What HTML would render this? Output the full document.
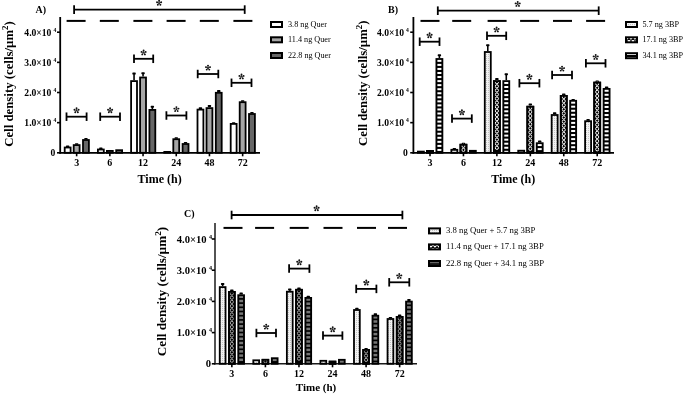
<!DOCTYPE html>
<html><head><meta charset="utf-8"><style>
html,body{margin:0;padding:0;background:#fff;}
svg{display:block;}
#wrap{width:685px;height:395px;overflow:hidden;will-change:transform;}
text{font-family:"Liberation Serif", serif;fill:#000;}
</style></head><body><div id="wrap">
<svg width="685" height="395" viewBox="0 0 685 395">
<defs>
<pattern id="pDots" width="2" height="2" patternUnits="userSpaceOnUse">
<rect width="2" height="2" fill="#f2f2f2"/><rect x="0" y="0" width="1" height="1" fill="#c4c4c4"/>
</pattern>
<pattern id="pCross" x="1" y="1" width="4" height="4" patternUnits="userSpaceOnUse">
<rect width="4" height="4" fill="#000"/><path d="M0 0L4 4M4 0L0 4" stroke="#fff" stroke-width="1.15"/>
</pattern>
<pattern id="pLadder" width="4" height="4" patternUnits="userSpaceOnUse">
<rect width="4" height="4" fill="#000"/><rect x="0" y="1" width="4" height="2" fill="#fff"/>
</pattern>
<pattern id="pLadderG" width="4" height="4" patternUnits="userSpaceOnUse">
<rect width="4" height="4" fill="#000"/><rect x="0" y="0.8" width="4" height="2.5" fill="#666"/>
</pattern>
</defs>
<rect width="685" height="395" fill="#fff"/>
<text transform="translate(13,84) rotate(-90)" font-size="12.8" font-weight="bold" text-anchor="middle">Cell density (cells/µm<tspan font-size="8.96" dy="-5">2</tspan><tspan dy="5">)</tspan></text>
<text x="35.5" y="13" font-size="10" font-weight="bold" text-anchor="start" >A)</text>
<line x1="60.2" y1="17" x2="60.2" y2="153.7" stroke="#000" stroke-width="1.8"/>
<line x1="59.3" y1="152.8" x2="260" y2="152.8" stroke="#000" stroke-width="1.8"/>
<line x1="57" y1="152.8" x2="60.2" y2="152.8" stroke="#000" stroke-width="1.6"/>
<text x="55.3" y="156" font-size="9.6" font-weight="bold" text-anchor="end" >0</text>
<line x1="57" y1="122.65" x2="60.2" y2="122.65" stroke="#000" stroke-width="1.6"/>
<text x="51.4" y="126.05" font-size="9.6" font-weight="bold" text-anchor="end" >1.0×10</text>
<text x="53.5" y="122.25" font-size="5.6" font-weight="bold" text-anchor="start" >4</text>
<line x1="57" y1="92.5" x2="60.2" y2="92.5" stroke="#000" stroke-width="1.6"/>
<text x="51.4" y="95.9" font-size="9.6" font-weight="bold" text-anchor="end" >2.0×10</text>
<text x="53.5" y="92.1" font-size="5.6" font-weight="bold" text-anchor="start" >4</text>
<line x1="57" y1="62.35" x2="60.2" y2="62.35" stroke="#000" stroke-width="1.6"/>
<text x="51.4" y="65.75" font-size="9.6" font-weight="bold" text-anchor="end" >3.0×10</text>
<text x="53.5" y="61.95" font-size="5.6" font-weight="bold" text-anchor="start" >4</text>
<line x1="57" y1="32.2" x2="60.2" y2="32.2" stroke="#000" stroke-width="1.6"/>
<text x="51.4" y="35.6" font-size="9.6" font-weight="bold" text-anchor="end" >4.0×10</text>
<text x="53.5" y="31.8" font-size="5.6" font-weight="bold" text-anchor="start" >4</text>
<line x1="76.65" y1="152.8" x2="76.65" y2="156.3" stroke="#000" stroke-width="1.6"/>
<text x="76.65" y="166" font-size="10" font-weight="bold" text-anchor="middle" >3</text>
<rect x="65.95" y="145.6" width="3.4" height="1.5" rx="0.6" fill="#000"/>
<rect x="64.7" y="147.5" width="5.9" height="5.3" fill="#fff" stroke="#000" stroke-width="1.8"/>
<rect x="74.95" y="143.2" width="3.4" height="1.5" rx="0.6" fill="#000"/>
<rect x="73.7" y="145.1" width="5.9" height="7.7" fill="#a6a6a6" stroke="#000" stroke-width="1.8"/>
<rect x="84.25" y="138.1" width="3.4" height="1.5" rx="0.6" fill="#000"/>
<rect x="83" y="140" width="5.9" height="12.8" fill="#666" stroke="#000" stroke-width="1.8"/>
<line x1="109.85" y1="152.8" x2="109.85" y2="156.3" stroke="#000" stroke-width="1.6"/>
<text x="109.85" y="166" font-size="10" font-weight="bold" text-anchor="middle" >6</text>
<rect x="99.15" y="147.6" width="3.4" height="1.5" rx="0.6" fill="#000"/>
<rect x="97.9" y="149.5" width="5.9" height="3.3" fill="#fff" stroke="#000" stroke-width="1.8"/>
<rect x="106.9" y="150.9" width="5.9" height="1.9" fill="#a6a6a6" stroke="#000" stroke-width="1.8"/>
<rect x="116.2" y="150.2" width="5.9" height="2.6" fill="#666" stroke="#000" stroke-width="1.8"/>
<line x1="143.05" y1="152.8" x2="143.05" y2="156.3" stroke="#000" stroke-width="1.6"/>
<text x="143.05" y="166" font-size="10" font-weight="bold" text-anchor="middle" >12</text>
<line x1="134.05" y1="80.2" x2="134.05" y2="73.6" stroke="#000" stroke-width="1.6"/>
<rect x="132.35" y="72.6" width="3.4" height="1.9" rx="0.6" fill="#000"/>
<rect x="131.1" y="81.1" width="5.9" height="71.7" fill="#fff" stroke="#000" stroke-width="1.8"/>
<line x1="143.05" y1="76.6" x2="143.05" y2="73.3" stroke="#000" stroke-width="1.6"/>
<rect x="141.35" y="72.3" width="3.4" height="1.9" rx="0.6" fill="#000"/>
<rect x="140.1" y="77.5" width="5.9" height="75.3" fill="#a6a6a6" stroke="#000" stroke-width="1.8"/>
<line x1="152.35" y1="109" x2="152.35" y2="106.8" stroke="#000" stroke-width="1.6"/>
<rect x="150.65" y="105.8" width="3.4" height="1.9" rx="0.6" fill="#000"/>
<rect x="149.4" y="109.9" width="5.9" height="42.9" fill="#666" stroke="#000" stroke-width="1.8"/>
<line x1="176.25" y1="152.8" x2="176.25" y2="156.3" stroke="#000" stroke-width="1.6"/>
<text x="176.25" y="166" font-size="10" font-weight="bold" text-anchor="middle" >24</text>
<rect x="164.3" y="151.9" width="5.9" height="0.9" fill="#fff" stroke="#000" stroke-width="1.8"/>
<rect x="174.55" y="137.3" width="3.4" height="1.5" rx="0.6" fill="#000"/>
<rect x="173.3" y="139.2" width="5.9" height="13.6" fill="#a6a6a6" stroke="#000" stroke-width="1.8"/>
<rect x="183.85" y="142.1" width="3.4" height="1.5" rx="0.6" fill="#000"/>
<rect x="182.6" y="144" width="5.9" height="8.8" fill="#666" stroke="#000" stroke-width="1.8"/>
<line x1="209.45" y1="152.8" x2="209.45" y2="156.3" stroke="#000" stroke-width="1.6"/>
<text x="209.45" y="166" font-size="10" font-weight="bold" text-anchor="middle" >48</text>
<rect x="198.75" y="107.2" width="3.4" height="1.9" rx="0.6" fill="#000"/>
<rect x="197.5" y="109.6" width="5.9" height="43.2" fill="#fff" stroke="#000" stroke-width="1.8"/>
<line x1="209.45" y1="107.2" x2="209.45" y2="106" stroke="#000" stroke-width="1.6"/>
<rect x="207.75" y="105" width="3.4" height="1.9" rx="0.6" fill="#000"/>
<rect x="206.5" y="108.1" width="5.9" height="44.7" fill="#a6a6a6" stroke="#000" stroke-width="1.8"/>
<rect x="217.05" y="90.1" width="3.4" height="1.9" rx="0.6" fill="#000"/>
<rect x="215.8" y="92.8" width="5.9" height="60" fill="#666" stroke="#000" stroke-width="1.8"/>
<line x1="242.65" y1="152.8" x2="242.65" y2="156.3" stroke="#000" stroke-width="1.6"/>
<text x="242.65" y="166" font-size="10" font-weight="bold" text-anchor="middle" >72</text>
<rect x="231.95" y="122.2" width="3.4" height="1.3" rx="0.6" fill="#000"/>
<rect x="230.7" y="123.9" width="5.9" height="28.9" fill="#fff" stroke="#000" stroke-width="1.8"/>
<rect x="240.95" y="100.2" width="3.4" height="1.6" rx="0.6" fill="#000"/>
<rect x="239.7" y="102.2" width="5.9" height="50.6" fill="#a6a6a6" stroke="#000" stroke-width="1.8"/>
<rect x="250.25" y="112" width="3.4" height="1.6" rx="0.6" fill="#000"/>
<rect x="249" y="114" width="5.9" height="38.8" fill="#666" stroke="#000" stroke-width="1.8"/>
<line x1="66.5" y1="116.7" x2="86.6" y2="116.7" stroke="#000" stroke-width="1.8"/>
<line x1="66.5" y1="112.45" x2="66.5" y2="120.95" stroke="#000" stroke-width="1.8"/>
<line x1="86.6" y1="112.45" x2="86.6" y2="120.95" stroke="#000" stroke-width="1.8"/>
<g><line x1="76.55" y1="110.5" x2="76.55" y2="108.3" stroke="#111" stroke-width="0.8"/><circle cx="76.55" cy="108.3" r="0.95" fill="#111"/><line x1="76.55" y1="110.5" x2="78.64" y2="109.82" stroke="#111" stroke-width="0.8"/><circle cx="78.64" cy="109.82" r="0.95" fill="#111"/><line x1="76.55" y1="110.5" x2="74.46" y2="109.82" stroke="#111" stroke-width="0.8"/><circle cx="74.46" cy="109.82" r="0.95" fill="#111"/><line x1="76.55" y1="110.5" x2="77.84" y2="112.28" stroke="#111" stroke-width="0.8"/><circle cx="77.84" cy="112.28" r="0.95" fill="#111"/><line x1="76.55" y1="110.5" x2="75.26" y2="112.28" stroke="#111" stroke-width="0.8"/><circle cx="75.26" cy="112.28" r="0.95" fill="#111"/></g>
<line x1="100.2" y1="116.7" x2="120" y2="116.7" stroke="#000" stroke-width="1.8"/>
<line x1="100.2" y1="112.45" x2="100.2" y2="120.95" stroke="#000" stroke-width="1.8"/>
<line x1="120" y1="112.45" x2="120" y2="120.95" stroke="#000" stroke-width="1.8"/>
<g><line x1="110.1" y1="110.5" x2="110.1" y2="108.3" stroke="#111" stroke-width="0.8"/><circle cx="110.1" cy="108.3" r="0.95" fill="#111"/><line x1="110.1" y1="110.5" x2="112.19" y2="109.82" stroke="#111" stroke-width="0.8"/><circle cx="112.19" cy="109.82" r="0.95" fill="#111"/><line x1="110.1" y1="110.5" x2="108.01" y2="109.82" stroke="#111" stroke-width="0.8"/><circle cx="108.01" cy="109.82" r="0.95" fill="#111"/><line x1="110.1" y1="110.5" x2="111.39" y2="112.28" stroke="#111" stroke-width="0.8"/><circle cx="111.39" cy="112.28" r="0.95" fill="#111"/><line x1="110.1" y1="110.5" x2="108.81" y2="112.28" stroke="#111" stroke-width="0.8"/><circle cx="108.81" cy="112.28" r="0.95" fill="#111"/></g>
<line x1="134" y1="58.8" x2="153.2" y2="58.8" stroke="#000" stroke-width="1.8"/>
<line x1="134" y1="54.55" x2="134" y2="63.05" stroke="#000" stroke-width="1.8"/>
<line x1="153.2" y1="54.55" x2="153.2" y2="63.05" stroke="#000" stroke-width="1.8"/>
<g><line x1="143.6" y1="52.6" x2="143.6" y2="50.4" stroke="#111" stroke-width="0.8"/><circle cx="143.6" cy="50.4" r="0.95" fill="#111"/><line x1="143.6" y1="52.6" x2="145.69" y2="51.92" stroke="#111" stroke-width="0.8"/><circle cx="145.69" cy="51.92" r="0.95" fill="#111"/><line x1="143.6" y1="52.6" x2="141.51" y2="51.92" stroke="#111" stroke-width="0.8"/><circle cx="141.51" cy="51.92" r="0.95" fill="#111"/><line x1="143.6" y1="52.6" x2="144.89" y2="54.38" stroke="#111" stroke-width="0.8"/><circle cx="144.89" cy="54.38" r="0.95" fill="#111"/><line x1="143.6" y1="52.6" x2="142.31" y2="54.38" stroke="#111" stroke-width="0.8"/><circle cx="142.31" cy="54.38" r="0.95" fill="#111"/></g>
<line x1="166.4" y1="115.5" x2="186.4" y2="115.5" stroke="#000" stroke-width="1.8"/>
<line x1="166.4" y1="111.25" x2="166.4" y2="119.75" stroke="#000" stroke-width="1.8"/>
<line x1="186.4" y1="111.25" x2="186.4" y2="119.75" stroke="#000" stroke-width="1.8"/>
<g><line x1="176.4" y1="109.3" x2="176.4" y2="107.1" stroke="#111" stroke-width="0.8"/><circle cx="176.4" cy="107.1" r="0.95" fill="#111"/><line x1="176.4" y1="109.3" x2="178.49" y2="108.62" stroke="#111" stroke-width="0.8"/><circle cx="178.49" cy="108.62" r="0.95" fill="#111"/><line x1="176.4" y1="109.3" x2="174.31" y2="108.62" stroke="#111" stroke-width="0.8"/><circle cx="174.31" cy="108.62" r="0.95" fill="#111"/><line x1="176.4" y1="109.3" x2="177.69" y2="111.08" stroke="#111" stroke-width="0.8"/><circle cx="177.69" cy="111.08" r="0.95" fill="#111"/><line x1="176.4" y1="109.3" x2="175.11" y2="111.08" stroke="#111" stroke-width="0.8"/><circle cx="175.11" cy="111.08" r="0.95" fill="#111"/></g>
<line x1="197.7" y1="74" x2="218.3" y2="74" stroke="#000" stroke-width="1.8"/>
<line x1="197.7" y1="69.75" x2="197.7" y2="78.25" stroke="#000" stroke-width="1.8"/>
<line x1="218.3" y1="69.75" x2="218.3" y2="78.25" stroke="#000" stroke-width="1.8"/>
<g><line x1="208" y1="67.8" x2="208" y2="65.6" stroke="#111" stroke-width="0.8"/><circle cx="208" cy="65.6" r="0.95" fill="#111"/><line x1="208" y1="67.8" x2="210.09" y2="67.12" stroke="#111" stroke-width="0.8"/><circle cx="210.09" cy="67.12" r="0.95" fill="#111"/><line x1="208" y1="67.8" x2="205.91" y2="67.12" stroke="#111" stroke-width="0.8"/><circle cx="205.91" cy="67.12" r="0.95" fill="#111"/><line x1="208" y1="67.8" x2="209.29" y2="69.58" stroke="#111" stroke-width="0.8"/><circle cx="209.29" cy="69.58" r="0.95" fill="#111"/><line x1="208" y1="67.8" x2="206.71" y2="69.58" stroke="#111" stroke-width="0.8"/><circle cx="206.71" cy="69.58" r="0.95" fill="#111"/></g>
<line x1="231.5" y1="82.8" x2="251.5" y2="82.8" stroke="#000" stroke-width="1.8"/>
<line x1="231.5" y1="78.55" x2="231.5" y2="87.05" stroke="#000" stroke-width="1.8"/>
<line x1="251.5" y1="78.55" x2="251.5" y2="87.05" stroke="#000" stroke-width="1.8"/>
<g><line x1="241.5" y1="76.6" x2="241.5" y2="74.4" stroke="#111" stroke-width="0.8"/><circle cx="241.5" cy="74.4" r="0.95" fill="#111"/><line x1="241.5" y1="76.6" x2="243.59" y2="75.92" stroke="#111" stroke-width="0.8"/><circle cx="243.59" cy="75.92" r="0.95" fill="#111"/><line x1="241.5" y1="76.6" x2="239.41" y2="75.92" stroke="#111" stroke-width="0.8"/><circle cx="239.41" cy="75.92" r="0.95" fill="#111"/><line x1="241.5" y1="76.6" x2="242.79" y2="78.38" stroke="#111" stroke-width="0.8"/><circle cx="242.79" cy="78.38" r="0.95" fill="#111"/><line x1="241.5" y1="76.6" x2="240.21" y2="78.38" stroke="#111" stroke-width="0.8"/><circle cx="240.21" cy="78.38" r="0.95" fill="#111"/></g>
<line x1="74.1" y1="9.6" x2="244.7" y2="9.6" stroke="#000" stroke-width="1.8"/>
<line x1="74.1" y1="5.3" x2="74.1" y2="13.9" stroke="#000" stroke-width="1.8"/>
<line x1="244.7" y1="5.3" x2="244.7" y2="13.9" stroke="#000" stroke-width="1.8"/>
<g><line x1="159.1" y1="3" x2="159.1" y2="0.8" stroke="#111" stroke-width="0.8"/><circle cx="159.1" cy="0.8" r="0.95" fill="#111"/><line x1="159.1" y1="3" x2="161.19" y2="2.32" stroke="#111" stroke-width="0.8"/><circle cx="161.19" cy="2.32" r="0.95" fill="#111"/><line x1="159.1" y1="3" x2="157.01" y2="2.32" stroke="#111" stroke-width="0.8"/><circle cx="157.01" cy="2.32" r="0.95" fill="#111"/><line x1="159.1" y1="3" x2="160.39" y2="4.78" stroke="#111" stroke-width="0.8"/><circle cx="160.39" cy="4.78" r="0.95" fill="#111"/><line x1="159.1" y1="3" x2="157.81" y2="4.78" stroke="#111" stroke-width="0.8"/><circle cx="157.81" cy="4.78" r="0.95" fill="#111"/></g>
<line x1="66.6" y1="20.9" x2="85.6" y2="20.9" stroke="#000" stroke-width="2"/>
<line x1="99.8" y1="20.9" x2="118.8" y2="20.9" stroke="#000" stroke-width="2"/>
<line x1="133.4" y1="20.9" x2="152.4" y2="20.9" stroke="#000" stroke-width="2"/>
<line x1="166.6" y1="20.9" x2="185.6" y2="20.9" stroke="#000" stroke-width="2"/>
<line x1="199.8" y1="20.9" x2="218.8" y2="20.9" stroke="#000" stroke-width="2"/>
<line x1="233.4" y1="20.9" x2="252.4" y2="20.9" stroke="#000" stroke-width="2"/>
<text x="159.6" y="183" font-size="12" font-weight="bold" text-anchor="middle" >Time (h)</text>
<rect x="271" y="22" width="11" height="5" fill="#fff" stroke="#000" stroke-width="2"/>
<text x="288" y="27" font-size="8.2" text-anchor="start" >3.8 ng Quer</text>
<rect x="271" y="37.3" width="11" height="5" fill="#a6a6a6" stroke="#000" stroke-width="2"/>
<text x="288" y="42.3" font-size="8.2" text-anchor="start" >11.4 ng Quer</text>
<rect x="271" y="53" width="11" height="5" fill="#666" stroke="#000" stroke-width="2"/>
<text x="288" y="58" font-size="8.2" text-anchor="start" >22.8 ng Quer</text>
<text transform="translate(366.5,83.2) rotate(-90)" font-size="12.8" font-weight="bold" text-anchor="middle">Cell density (cells/µm<tspan font-size="8.96" dy="-5">2</tspan><tspan dy="5">)</tspan></text>
<text x="388" y="13" font-size="10" font-weight="bold" text-anchor="start" >B)</text>
<line x1="413.4" y1="17" x2="413.4" y2="153.7" stroke="#000" stroke-width="1.8"/>
<line x1="412.5" y1="152.8" x2="614" y2="152.8" stroke="#000" stroke-width="1.8"/>
<line x1="410.2" y1="152.8" x2="413.4" y2="152.8" stroke="#000" stroke-width="1.6"/>
<text x="407.9" y="156" font-size="9.6" font-weight="bold" text-anchor="end" >0</text>
<line x1="410.2" y1="122.65" x2="413.4" y2="122.65" stroke="#000" stroke-width="1.6"/>
<text x="404" y="126.05" font-size="9.6" font-weight="bold" text-anchor="end" >1.0×10</text>
<text x="406.1" y="122.25" font-size="5.6" font-weight="bold" text-anchor="start" >4</text>
<line x1="410.2" y1="92.5" x2="413.4" y2="92.5" stroke="#000" stroke-width="1.6"/>
<text x="404" y="95.9" font-size="9.6" font-weight="bold" text-anchor="end" >2.0×10</text>
<text x="406.1" y="92.1" font-size="5.6" font-weight="bold" text-anchor="start" >4</text>
<line x1="410.2" y1="62.35" x2="413.4" y2="62.35" stroke="#000" stroke-width="1.6"/>
<text x="404" y="65.75" font-size="9.6" font-weight="bold" text-anchor="end" >3.0×10</text>
<text x="406.1" y="61.95" font-size="5.6" font-weight="bold" text-anchor="start" >4</text>
<line x1="410.2" y1="32.2" x2="413.4" y2="32.2" stroke="#000" stroke-width="1.6"/>
<text x="404" y="35.6" font-size="9.6" font-weight="bold" text-anchor="end" >4.0×10</text>
<text x="406.1" y="31.8" font-size="5.6" font-weight="bold" text-anchor="start" >4</text>
<line x1="430" y1="152.8" x2="430" y2="156.3" stroke="#000" stroke-width="1.6"/>
<text x="430" y="166" font-size="10" font-weight="bold" text-anchor="middle" >3</text>
<rect x="417.9" y="151.6" width="6" height="1.2" fill="url(#pDots)" stroke="#000" stroke-width="1.8"/>
<rect x="427" y="150.9" width="6" height="1.9" fill="#000" stroke="#000" stroke-width="1.8"/>
<rect x="427" y="150.9" width="6" height="1.9" fill="none" stroke="#000" stroke-width="1.8"/>
<line x1="439.4" y1="58.1" x2="439.4" y2="55.3" stroke="#000" stroke-width="1.6"/>
<rect x="437.7" y="54.3" width="3.4" height="1.9" rx="0.6" fill="#000"/>
<rect x="436.4" y="59" width="6" height="93.8" fill="#000" stroke="#000" stroke-width="1.8"/>
<rect x="437.4" y="59.9" width="4" height="1.95" fill="#fff"/>
<rect x="437.4" y="63.9" width="4" height="2" fill="#fff"/>
<rect x="437.4" y="67.95" width="4" height="2" fill="#fff"/>
<rect x="437.4" y="72" width="4" height="2" fill="#fff"/>
<rect x="437.4" y="76.05" width="4" height="2" fill="#fff"/>
<rect x="437.4" y="80.1" width="4" height="2" fill="#fff"/>
<rect x="437.4" y="84.15" width="4" height="2" fill="#fff"/>
<rect x="437.4" y="88.2" width="4" height="2" fill="#fff"/>
<rect x="437.4" y="92.25" width="4" height="2" fill="#fff"/>
<rect x="437.4" y="96.3" width="4" height="2" fill="#fff"/>
<rect x="437.4" y="100.35" width="4" height="2" fill="#fff"/>
<rect x="437.4" y="104.4" width="4" height="2" fill="#fff"/>
<rect x="437.4" y="108.45" width="4" height="2" fill="#fff"/>
<rect x="437.4" y="112.5" width="4" height="2" fill="#fff"/>
<rect x="437.4" y="116.55" width="4" height="2" fill="#fff"/>
<rect x="437.4" y="120.6" width="4" height="2" fill="#fff"/>
<rect x="437.4" y="124.65" width="4" height="2" fill="#fff"/>
<rect x="437.4" y="128.7" width="4" height="2" fill="#fff"/>
<rect x="437.4" y="132.75" width="4" height="2" fill="#fff"/>
<rect x="437.4" y="136.8" width="4" height="2" fill="#fff"/>
<rect x="437.4" y="140.85" width="4" height="2" fill="#fff"/>
<rect x="437.4" y="144.9" width="4" height="2" fill="#fff"/>
<rect x="437.4" y="148.95" width="4" height="2" fill="#fff"/>
<line x1="463.44" y1="152.8" x2="463.44" y2="156.3" stroke="#000" stroke-width="1.6"/>
<text x="463.44" y="166" font-size="10" font-weight="bold" text-anchor="middle" >6</text>
<rect x="452.64" y="147.9" width="3.4" height="1.5" rx="0.6" fill="#000"/>
<rect x="451.34" y="149.8" width="6" height="3" fill="url(#pDots)" stroke="#000" stroke-width="1.8"/>
<rect x="461.74" y="142.8" width="3.4" height="1.5" rx="0.6" fill="#000"/>
<rect x="460.44" y="144.7" width="6" height="8.1" fill="#000" stroke="#000" stroke-width="1.8"/>
<circle cx="463.44" cy="145.8" r="1.6" fill="none" stroke="#fff" stroke-width="1.0"/>
<circle cx="463.44" cy="149.9" r="1.6" fill="none" stroke="#fff" stroke-width="1.0"/>
<rect x="460.44" y="144.7" width="6" height="8.1" fill="none" stroke="#000" stroke-width="1.8"/>
<rect x="469.84" y="150.8" width="6" height="2" fill="#000" stroke="#000" stroke-width="1.8"/>
<line x1="496.88" y1="152.8" x2="496.88" y2="156.3" stroke="#000" stroke-width="1.6"/>
<text x="496.88" y="166" font-size="10" font-weight="bold" text-anchor="middle" >12</text>
<line x1="487.78" y1="51.1" x2="487.78" y2="45.3" stroke="#000" stroke-width="1.6"/>
<rect x="486.08" y="44.3" width="3.4" height="1.9" rx="0.6" fill="#000"/>
<rect x="484.78" y="52" width="6" height="100.8" fill="url(#pDots)" stroke="#000" stroke-width="1.8"/>
<rect x="495.18" y="78.1" width="3.4" height="1.9" rx="0.6" fill="#000"/>
<rect x="493.88" y="81.1" width="6" height="71.7" fill="#000" stroke="#000" stroke-width="1.8"/>
<circle cx="496.88" cy="82.2" r="1.6" fill="none" stroke="#fff" stroke-width="1.0"/>
<circle cx="496.88" cy="86.3" r="1.6" fill="none" stroke="#fff" stroke-width="1.0"/>
<circle cx="496.88" cy="90.4" r="1.6" fill="none" stroke="#fff" stroke-width="1.0"/>
<circle cx="496.88" cy="94.5" r="1.6" fill="none" stroke="#fff" stroke-width="1.0"/>
<circle cx="496.88" cy="98.6" r="1.6" fill="none" stroke="#fff" stroke-width="1.0"/>
<circle cx="496.88" cy="102.7" r="1.6" fill="none" stroke="#fff" stroke-width="1.0"/>
<circle cx="496.88" cy="106.8" r="1.6" fill="none" stroke="#fff" stroke-width="1.0"/>
<circle cx="496.88" cy="110.9" r="1.6" fill="none" stroke="#fff" stroke-width="1.0"/>
<circle cx="496.88" cy="115" r="1.6" fill="none" stroke="#fff" stroke-width="1.0"/>
<circle cx="496.88" cy="119.1" r="1.6" fill="none" stroke="#fff" stroke-width="1.0"/>
<circle cx="496.88" cy="123.2" r="1.6" fill="none" stroke="#fff" stroke-width="1.0"/>
<circle cx="496.88" cy="127.3" r="1.6" fill="none" stroke="#fff" stroke-width="1.0"/>
<circle cx="496.88" cy="131.4" r="1.6" fill="none" stroke="#fff" stroke-width="1.0"/>
<circle cx="496.88" cy="135.5" r="1.6" fill="none" stroke="#fff" stroke-width="1.0"/>
<circle cx="496.88" cy="139.6" r="1.6" fill="none" stroke="#fff" stroke-width="1.0"/>
<circle cx="496.88" cy="143.7" r="1.6" fill="none" stroke="#fff" stroke-width="1.0"/>
<circle cx="496.88" cy="147.8" r="1.6" fill="none" stroke="#fff" stroke-width="1.0"/>
<rect x="493.88" y="81.1" width="6" height="71.7" fill="none" stroke="#000" stroke-width="1.8"/>
<line x1="506.28" y1="80.2" x2="506.28" y2="74.3" stroke="#000" stroke-width="1.6"/>
<rect x="504.58" y="73.3" width="3.4" height="1.9" rx="0.6" fill="#000"/>
<rect x="503.28" y="81.1" width="6" height="71.7" fill="#000" stroke="#000" stroke-width="1.8"/>
<rect x="504.28" y="82" width="4" height="1.95" fill="#fff"/>
<rect x="504.28" y="86" width="4" height="2" fill="#fff"/>
<rect x="504.28" y="90.05" width="4" height="2" fill="#fff"/>
<rect x="504.28" y="94.1" width="4" height="2" fill="#fff"/>
<rect x="504.28" y="98.15" width="4" height="2" fill="#fff"/>
<rect x="504.28" y="102.2" width="4" height="2" fill="#fff"/>
<rect x="504.28" y="106.25" width="4" height="2" fill="#fff"/>
<rect x="504.28" y="110.3" width="4" height="2" fill="#fff"/>
<rect x="504.28" y="114.35" width="4" height="2" fill="#fff"/>
<rect x="504.28" y="118.4" width="4" height="2" fill="#fff"/>
<rect x="504.28" y="122.45" width="4" height="2" fill="#fff"/>
<rect x="504.28" y="126.5" width="4" height="2" fill="#fff"/>
<rect x="504.28" y="130.55" width="4" height="2" fill="#fff"/>
<rect x="504.28" y="134.6" width="4" height="2" fill="#fff"/>
<rect x="504.28" y="138.65" width="4" height="2" fill="#fff"/>
<rect x="504.28" y="142.7" width="4" height="2" fill="#fff"/>
<rect x="504.28" y="146.75" width="4" height="2" fill="#fff"/>
<rect x="504.28" y="150.8" width="4" height="1.1" fill="#fff"/>
<line x1="530.32" y1="152.8" x2="530.32" y2="156.3" stroke="#000" stroke-width="1.6"/>
<text x="530.32" y="166" font-size="10" font-weight="bold" text-anchor="middle" >24</text>
<rect x="518.22" y="150.7" width="6" height="2.1" fill="url(#pDots)" stroke="#000" stroke-width="1.8"/>
<line x1="530.32" y1="105.8" x2="530.32" y2="104.4" stroke="#000" stroke-width="1.6"/>
<rect x="528.62" y="103.4" width="3.4" height="1.9" rx="0.6" fill="#000"/>
<rect x="527.32" y="106.7" width="6" height="46.1" fill="#000" stroke="#000" stroke-width="1.8"/>
<circle cx="530.32" cy="107.8" r="1.6" fill="none" stroke="#fff" stroke-width="1.0"/>
<circle cx="530.32" cy="111.9" r="1.6" fill="none" stroke="#fff" stroke-width="1.0"/>
<circle cx="530.32" cy="116" r="1.6" fill="none" stroke="#fff" stroke-width="1.0"/>
<circle cx="530.32" cy="120.1" r="1.6" fill="none" stroke="#fff" stroke-width="1.0"/>
<circle cx="530.32" cy="124.2" r="1.6" fill="none" stroke="#fff" stroke-width="1.0"/>
<circle cx="530.32" cy="128.3" r="1.6" fill="none" stroke="#fff" stroke-width="1.0"/>
<circle cx="530.32" cy="132.4" r="1.6" fill="none" stroke="#fff" stroke-width="1.0"/>
<circle cx="530.32" cy="136.5" r="1.6" fill="none" stroke="#fff" stroke-width="1.0"/>
<circle cx="530.32" cy="140.6" r="1.6" fill="none" stroke="#fff" stroke-width="1.0"/>
<circle cx="530.32" cy="144.7" r="1.6" fill="none" stroke="#fff" stroke-width="1.0"/>
<circle cx="530.32" cy="148.8" r="1.6" fill="none" stroke="#fff" stroke-width="1.0"/>
<rect x="527.32" y="106.7" width="6" height="46.1" fill="none" stroke="#000" stroke-width="1.8"/>
<rect x="538.02" y="140.6" width="3.4" height="1.9" rx="0.6" fill="#000"/>
<rect x="536.72" y="143.2" width="6" height="9.6" fill="#000" stroke="#000" stroke-width="1.8"/>
<rect x="537.72" y="144.1" width="4" height="1.95" fill="#fff"/>
<rect x="537.72" y="148.1" width="4" height="2" fill="#fff"/>
<line x1="563.76" y1="152.8" x2="563.76" y2="156.3" stroke="#000" stroke-width="1.6"/>
<text x="563.76" y="166" font-size="10" font-weight="bold" text-anchor="middle" >48</text>
<rect x="552.96" y="112.3" width="3.4" height="1.9" rx="0.6" fill="#000"/>
<rect x="551.66" y="115" width="6" height="37.8" fill="url(#pDots)" stroke="#000" stroke-width="1.8"/>
<rect x="562.06" y="93.5" width="3.4" height="1.9" rx="0.6" fill="#000"/>
<rect x="560.76" y="95.9" width="6" height="56.9" fill="#000" stroke="#000" stroke-width="1.8"/>
<circle cx="563.76" cy="97" r="1.6" fill="none" stroke="#fff" stroke-width="1.0"/>
<circle cx="563.76" cy="101.1" r="1.6" fill="none" stroke="#fff" stroke-width="1.0"/>
<circle cx="563.76" cy="105.2" r="1.6" fill="none" stroke="#fff" stroke-width="1.0"/>
<circle cx="563.76" cy="109.3" r="1.6" fill="none" stroke="#fff" stroke-width="1.0"/>
<circle cx="563.76" cy="113.4" r="1.6" fill="none" stroke="#fff" stroke-width="1.0"/>
<circle cx="563.76" cy="117.5" r="1.6" fill="none" stroke="#fff" stroke-width="1.0"/>
<circle cx="563.76" cy="121.6" r="1.6" fill="none" stroke="#fff" stroke-width="1.0"/>
<circle cx="563.76" cy="125.7" r="1.6" fill="none" stroke="#fff" stroke-width="1.0"/>
<circle cx="563.76" cy="129.8" r="1.6" fill="none" stroke="#fff" stroke-width="1.0"/>
<circle cx="563.76" cy="133.9" r="1.6" fill="none" stroke="#fff" stroke-width="1.0"/>
<circle cx="563.76" cy="138" r="1.6" fill="none" stroke="#fff" stroke-width="1.0"/>
<circle cx="563.76" cy="142.1" r="1.6" fill="none" stroke="#fff" stroke-width="1.0"/>
<circle cx="563.76" cy="146.2" r="1.6" fill="none" stroke="#fff" stroke-width="1.0"/>
<circle cx="563.76" cy="150.3" r="1.6" fill="none" stroke="#fff" stroke-width="1.0"/>
<rect x="560.76" y="95.9" width="6" height="56.9" fill="none" stroke="#000" stroke-width="1.8"/>
<rect x="571.46" y="98.9" width="3.4" height="1.5" rx="0.6" fill="#000"/>
<rect x="570.16" y="100.8" width="6" height="52" fill="#000" stroke="#000" stroke-width="1.8"/>
<rect x="571.16" y="101.7" width="4" height="1.95" fill="#fff"/>
<rect x="571.16" y="105.7" width="4" height="2" fill="#fff"/>
<rect x="571.16" y="109.75" width="4" height="2" fill="#fff"/>
<rect x="571.16" y="113.8" width="4" height="2" fill="#fff"/>
<rect x="571.16" y="117.85" width="4" height="2" fill="#fff"/>
<rect x="571.16" y="121.9" width="4" height="2" fill="#fff"/>
<rect x="571.16" y="125.95" width="4" height="2" fill="#fff"/>
<rect x="571.16" y="130" width="4" height="2" fill="#fff"/>
<rect x="571.16" y="134.05" width="4" height="2" fill="#fff"/>
<rect x="571.16" y="138.1" width="4" height="2" fill="#fff"/>
<rect x="571.16" y="142.15" width="4" height="2" fill="#fff"/>
<rect x="571.16" y="146.2" width="4" height="2" fill="#fff"/>
<rect x="571.16" y="150.25" width="4" height="1.65" fill="#fff"/>
<line x1="597.2" y1="152.8" x2="597.2" y2="156.3" stroke="#000" stroke-width="1.6"/>
<text x="597.2" y="166" font-size="10" font-weight="bold" text-anchor="middle" >72</text>
<rect x="586.4" y="119" width="3.4" height="1.8" rx="0.6" fill="#000"/>
<rect x="585.1" y="121.2" width="6" height="31.6" fill="url(#pDots)" stroke="#000" stroke-width="1.8"/>
<rect x="595.5" y="80.6" width="3.4" height="1.6" rx="0.6" fill="#000"/>
<rect x="594.2" y="82.6" width="6" height="70.2" fill="#000" stroke="#000" stroke-width="1.8"/>
<circle cx="597.2" cy="83.7" r="1.6" fill="none" stroke="#fff" stroke-width="1.0"/>
<circle cx="597.2" cy="87.8" r="1.6" fill="none" stroke="#fff" stroke-width="1.0"/>
<circle cx="597.2" cy="91.9" r="1.6" fill="none" stroke="#fff" stroke-width="1.0"/>
<circle cx="597.2" cy="96" r="1.6" fill="none" stroke="#fff" stroke-width="1.0"/>
<circle cx="597.2" cy="100.1" r="1.6" fill="none" stroke="#fff" stroke-width="1.0"/>
<circle cx="597.2" cy="104.2" r="1.6" fill="none" stroke="#fff" stroke-width="1.0"/>
<circle cx="597.2" cy="108.3" r="1.6" fill="none" stroke="#fff" stroke-width="1.0"/>
<circle cx="597.2" cy="112.4" r="1.6" fill="none" stroke="#fff" stroke-width="1.0"/>
<circle cx="597.2" cy="116.5" r="1.6" fill="none" stroke="#fff" stroke-width="1.0"/>
<circle cx="597.2" cy="120.6" r="1.6" fill="none" stroke="#fff" stroke-width="1.0"/>
<circle cx="597.2" cy="124.7" r="1.6" fill="none" stroke="#fff" stroke-width="1.0"/>
<circle cx="597.2" cy="128.8" r="1.6" fill="none" stroke="#fff" stroke-width="1.0"/>
<circle cx="597.2" cy="132.9" r="1.6" fill="none" stroke="#fff" stroke-width="1.0"/>
<circle cx="597.2" cy="137" r="1.6" fill="none" stroke="#fff" stroke-width="1.0"/>
<circle cx="597.2" cy="141.1" r="1.6" fill="none" stroke="#fff" stroke-width="1.0"/>
<circle cx="597.2" cy="145.2" r="1.6" fill="none" stroke="#fff" stroke-width="1.0"/>
<circle cx="597.2" cy="149.3" r="1.6" fill="none" stroke="#fff" stroke-width="1.0"/>
<rect x="594.2" y="82.6" width="6" height="70.2" fill="none" stroke="#000" stroke-width="1.8"/>
<rect x="604.9" y="86.4" width="3.4" height="1.9" rx="0.6" fill="#000"/>
<rect x="603.6" y="88.9" width="6" height="63.9" fill="#000" stroke="#000" stroke-width="1.8"/>
<rect x="604.6" y="89.8" width="4" height="1.95" fill="#fff"/>
<rect x="604.6" y="93.8" width="4" height="2" fill="#fff"/>
<rect x="604.6" y="97.85" width="4" height="2" fill="#fff"/>
<rect x="604.6" y="101.9" width="4" height="2" fill="#fff"/>
<rect x="604.6" y="105.95" width="4" height="2" fill="#fff"/>
<rect x="604.6" y="110" width="4" height="2" fill="#fff"/>
<rect x="604.6" y="114.05" width="4" height="2" fill="#fff"/>
<rect x="604.6" y="118.1" width="4" height="2" fill="#fff"/>
<rect x="604.6" y="122.15" width="4" height="2" fill="#fff"/>
<rect x="604.6" y="126.2" width="4" height="2" fill="#fff"/>
<rect x="604.6" y="130.25" width="4" height="2" fill="#fff"/>
<rect x="604.6" y="134.3" width="4" height="2" fill="#fff"/>
<rect x="604.6" y="138.35" width="4" height="2" fill="#fff"/>
<rect x="604.6" y="142.4" width="4" height="2" fill="#fff"/>
<rect x="604.6" y="146.45" width="4" height="2" fill="#fff"/>
<rect x="604.6" y="150.5" width="4" height="1.4" fill="#fff"/>
<line x1="419.7" y1="41.7" x2="439.5" y2="41.7" stroke="#000" stroke-width="1.8"/>
<line x1="419.7" y1="37.45" x2="419.7" y2="45.95" stroke="#000" stroke-width="1.8"/>
<line x1="439.5" y1="37.45" x2="439.5" y2="45.95" stroke="#000" stroke-width="1.8"/>
<g><line x1="429.6" y1="35.5" x2="429.6" y2="33.3" stroke="#111" stroke-width="0.8"/><circle cx="429.6" cy="33.3" r="0.95" fill="#111"/><line x1="429.6" y1="35.5" x2="431.69" y2="34.82" stroke="#111" stroke-width="0.8"/><circle cx="431.69" cy="34.82" r="0.95" fill="#111"/><line x1="429.6" y1="35.5" x2="427.51" y2="34.82" stroke="#111" stroke-width="0.8"/><circle cx="427.51" cy="34.82" r="0.95" fill="#111"/><line x1="429.6" y1="35.5" x2="430.89" y2="37.28" stroke="#111" stroke-width="0.8"/><circle cx="430.89" cy="37.28" r="0.95" fill="#111"/><line x1="429.6" y1="35.5" x2="428.31" y2="37.28" stroke="#111" stroke-width="0.8"/><circle cx="428.31" cy="37.28" r="0.95" fill="#111"/></g>
<line x1="452" y1="118.6" x2="471.8" y2="118.6" stroke="#000" stroke-width="1.8"/>
<line x1="452" y1="114.35" x2="452" y2="122.85" stroke="#000" stroke-width="1.8"/>
<line x1="471.8" y1="114.35" x2="471.8" y2="122.85" stroke="#000" stroke-width="1.8"/>
<g><line x1="461.9" y1="112.4" x2="461.9" y2="110.2" stroke="#111" stroke-width="0.8"/><circle cx="461.9" cy="110.2" r="0.95" fill="#111"/><line x1="461.9" y1="112.4" x2="463.99" y2="111.72" stroke="#111" stroke-width="0.8"/><circle cx="463.99" cy="111.72" r="0.95" fill="#111"/><line x1="461.9" y1="112.4" x2="459.81" y2="111.72" stroke="#111" stroke-width="0.8"/><circle cx="459.81" cy="111.72" r="0.95" fill="#111"/><line x1="461.9" y1="112.4" x2="463.19" y2="114.18" stroke="#111" stroke-width="0.8"/><circle cx="463.19" cy="114.18" r="0.95" fill="#111"/><line x1="461.9" y1="112.4" x2="460.61" y2="114.18" stroke="#111" stroke-width="0.8"/><circle cx="460.61" cy="114.18" r="0.95" fill="#111"/></g>
<line x1="487" y1="35.8" x2="506.2" y2="35.8" stroke="#000" stroke-width="1.8"/>
<line x1="487" y1="31.55" x2="487" y2="40.05" stroke="#000" stroke-width="1.8"/>
<line x1="506.2" y1="31.55" x2="506.2" y2="40.05" stroke="#000" stroke-width="1.8"/>
<g><line x1="496.6" y1="29.6" x2="496.6" y2="27.4" stroke="#111" stroke-width="0.8"/><circle cx="496.6" cy="27.4" r="0.95" fill="#111"/><line x1="496.6" y1="29.6" x2="498.69" y2="28.92" stroke="#111" stroke-width="0.8"/><circle cx="498.69" cy="28.92" r="0.95" fill="#111"/><line x1="496.6" y1="29.6" x2="494.51" y2="28.92" stroke="#111" stroke-width="0.8"/><circle cx="494.51" cy="28.92" r="0.95" fill="#111"/><line x1="496.6" y1="29.6" x2="497.89" y2="31.38" stroke="#111" stroke-width="0.8"/><circle cx="497.89" cy="31.38" r="0.95" fill="#111"/><line x1="496.6" y1="29.6" x2="495.31" y2="31.38" stroke="#111" stroke-width="0.8"/><circle cx="495.31" cy="31.38" r="0.95" fill="#111"/></g>
<line x1="519.4" y1="83.2" x2="539.4" y2="83.2" stroke="#000" stroke-width="1.8"/>
<line x1="519.4" y1="78.95" x2="519.4" y2="87.45" stroke="#000" stroke-width="1.8"/>
<line x1="539.4" y1="78.95" x2="539.4" y2="87.45" stroke="#000" stroke-width="1.8"/>
<g><line x1="529.4" y1="77" x2="529.4" y2="74.8" stroke="#111" stroke-width="0.8"/><circle cx="529.4" cy="74.8" r="0.95" fill="#111"/><line x1="529.4" y1="77" x2="531.49" y2="76.32" stroke="#111" stroke-width="0.8"/><circle cx="531.49" cy="76.32" r="0.95" fill="#111"/><line x1="529.4" y1="77" x2="527.31" y2="76.32" stroke="#111" stroke-width="0.8"/><circle cx="527.31" cy="76.32" r="0.95" fill="#111"/><line x1="529.4" y1="77" x2="530.69" y2="78.78" stroke="#111" stroke-width="0.8"/><circle cx="530.69" cy="78.78" r="0.95" fill="#111"/><line x1="529.4" y1="77" x2="528.11" y2="78.78" stroke="#111" stroke-width="0.8"/><circle cx="528.11" cy="78.78" r="0.95" fill="#111"/></g>
<line x1="552.1" y1="75" x2="572" y2="75" stroke="#000" stroke-width="1.8"/>
<line x1="552.1" y1="70.75" x2="552.1" y2="79.25" stroke="#000" stroke-width="1.8"/>
<line x1="572" y1="70.75" x2="572" y2="79.25" stroke="#000" stroke-width="1.8"/>
<g><line x1="562.05" y1="68.8" x2="562.05" y2="66.6" stroke="#111" stroke-width="0.8"/><circle cx="562.05" cy="66.6" r="0.95" fill="#111"/><line x1="562.05" y1="68.8" x2="564.14" y2="68.12" stroke="#111" stroke-width="0.8"/><circle cx="564.14" cy="68.12" r="0.95" fill="#111"/><line x1="562.05" y1="68.8" x2="559.96" y2="68.12" stroke="#111" stroke-width="0.8"/><circle cx="559.96" cy="68.12" r="0.95" fill="#111"/><line x1="562.05" y1="68.8" x2="563.34" y2="70.58" stroke="#111" stroke-width="0.8"/><circle cx="563.34" cy="70.58" r="0.95" fill="#111"/><line x1="562.05" y1="68.8" x2="560.76" y2="70.58" stroke="#111" stroke-width="0.8"/><circle cx="560.76" cy="70.58" r="0.95" fill="#111"/></g>
<line x1="585.9" y1="63.3" x2="605.5" y2="63.3" stroke="#000" stroke-width="1.8"/>
<line x1="585.9" y1="59.05" x2="585.9" y2="67.55" stroke="#000" stroke-width="1.8"/>
<line x1="605.5" y1="59.05" x2="605.5" y2="67.55" stroke="#000" stroke-width="1.8"/>
<g><line x1="595.7" y1="57.1" x2="595.7" y2="54.9" stroke="#111" stroke-width="0.8"/><circle cx="595.7" cy="54.9" r="0.95" fill="#111"/><line x1="595.7" y1="57.1" x2="597.79" y2="56.42" stroke="#111" stroke-width="0.8"/><circle cx="597.79" cy="56.42" r="0.95" fill="#111"/><line x1="595.7" y1="57.1" x2="593.61" y2="56.42" stroke="#111" stroke-width="0.8"/><circle cx="593.61" cy="56.42" r="0.95" fill="#111"/><line x1="595.7" y1="57.1" x2="596.99" y2="58.88" stroke="#111" stroke-width="0.8"/><circle cx="596.99" cy="58.88" r="0.95" fill="#111"/><line x1="595.7" y1="57.1" x2="594.41" y2="58.88" stroke="#111" stroke-width="0.8"/><circle cx="594.41" cy="58.88" r="0.95" fill="#111"/></g>
<line x1="437.8" y1="10.7" x2="598.7" y2="10.7" stroke="#000" stroke-width="1.8"/>
<line x1="437.8" y1="6.4" x2="437.8" y2="15" stroke="#000" stroke-width="1.8"/>
<line x1="598.7" y1="6.4" x2="598.7" y2="15" stroke="#000" stroke-width="1.8"/>
<g><line x1="517.7" y1="4.1" x2="517.7" y2="1.9" stroke="#111" stroke-width="0.8"/><circle cx="517.7" cy="1.9" r="0.95" fill="#111"/><line x1="517.7" y1="4.1" x2="519.79" y2="3.42" stroke="#111" stroke-width="0.8"/><circle cx="519.79" cy="3.42" r="0.95" fill="#111"/><line x1="517.7" y1="4.1" x2="515.61" y2="3.42" stroke="#111" stroke-width="0.8"/><circle cx="515.61" cy="3.42" r="0.95" fill="#111"/><line x1="517.7" y1="4.1" x2="518.99" y2="5.88" stroke="#111" stroke-width="0.8"/><circle cx="518.99" cy="5.88" r="0.95" fill="#111"/><line x1="517.7" y1="4.1" x2="516.41" y2="5.88" stroke="#111" stroke-width="0.8"/><circle cx="516.41" cy="5.88" r="0.95" fill="#111"/></g>
<line x1="420.5" y1="20.9" x2="439.5" y2="20.9" stroke="#000" stroke-width="2"/>
<line x1="452.2" y1="20.9" x2="471.2" y2="20.9" stroke="#000" stroke-width="2"/>
<line x1="487.6" y1="20.9" x2="506.6" y2="20.9" stroke="#000" stroke-width="2"/>
<line x1="520.1" y1="20.9" x2="539.1" y2="20.9" stroke="#000" stroke-width="2"/>
<line x1="553" y1="20.9" x2="572" y2="20.9" stroke="#000" stroke-width="2"/>
<line x1="586.1" y1="20.9" x2="605.1" y2="20.9" stroke="#000" stroke-width="2"/>
<text x="513.2" y="183" font-size="12" font-weight="bold" text-anchor="middle" >Time (h)</text>
<rect x="626" y="22" width="11" height="5" fill="url(#pDots)" stroke="#000" stroke-width="2"/>
<text x="642.4" y="27" font-size="8.2" text-anchor="start" >5.7 ng 3BP</text>
<rect x="626" y="37.3" width="11" height="5" fill="url(#pCross)" stroke="#000" stroke-width="2"/>
<text x="642.4" y="42.3" font-size="8.2" text-anchor="start" >17.1 ng 3BP</text>
<rect x="626" y="53.2" width="11" height="5" fill="url(#pLadder)" stroke="#000" stroke-width="2"/>
<text x="642.4" y="58.2" font-size="8.2" text-anchor="start" >34.1 ng 3BP</text>
<text transform="translate(165.5,291.5) rotate(-90)" font-size="13.2" font-weight="bold" text-anchor="middle">Cell density (cells/µm<tspan font-size="9.24" dy="-5">2</tspan><tspan dy="5">)</tspan></text>
<text x="184" y="217.4" font-size="10" font-weight="bold" text-anchor="start" >C)</text>
<line x1="215" y1="223" x2="215" y2="364.55" stroke="#1a1a1a" stroke-width="1.5"/>
<line x1="214.25" y1="363.8" x2="417" y2="363.8" stroke="#1a1a1a" stroke-width="1.5"/>
<line x1="211.8" y1="363.8" x2="215" y2="363.8" stroke="#000" stroke-width="1.6"/>
<text x="211" y="367.33" font-size="10.6" font-weight="bold" text-anchor="end" >0</text>
<line x1="211.8" y1="332.6" x2="215" y2="332.6" stroke="#000" stroke-width="1.6"/>
<text x="206.64" y="336.35" font-size="10.6" font-weight="bold" text-anchor="end" >1.0×10</text>
<text x="208.96" y="332.16" font-size="6.18" font-weight="bold" text-anchor="start" >4</text>
<line x1="211.8" y1="301.4" x2="215" y2="301.4" stroke="#000" stroke-width="1.6"/>
<text x="206.64" y="305.15" font-size="10.6" font-weight="bold" text-anchor="end" >2.0×10</text>
<text x="208.96" y="300.96" font-size="6.18" font-weight="bold" text-anchor="start" >4</text>
<line x1="211.8" y1="270.2" x2="215" y2="270.2" stroke="#000" stroke-width="1.6"/>
<text x="206.64" y="273.95" font-size="10.6" font-weight="bold" text-anchor="end" >3.0×10</text>
<text x="208.96" y="269.76" font-size="6.18" font-weight="bold" text-anchor="start" >4</text>
<line x1="211.8" y1="239" x2="215" y2="239" stroke="#000" stroke-width="1.6"/>
<text x="206.64" y="242.75" font-size="10.6" font-weight="bold" text-anchor="end" >4.0×10</text>
<text x="208.96" y="238.56" font-size="6.18" font-weight="bold" text-anchor="start" >4</text>
<line x1="231.85" y1="363.8" x2="231.85" y2="367.3" stroke="#000" stroke-width="1.6"/>
<text x="231.85" y="377.3" font-size="10" font-weight="bold" text-anchor="middle" >3</text>
<line x1="222.65" y1="286.2" x2="222.65" y2="284" stroke="#000" stroke-width="1.6"/>
<rect x="220.95" y="283" width="3.4" height="1.9" rx="0.6" fill="#000"/>
<rect x="219.75" y="287.1" width="5.8" height="76.7" fill="url(#pDots)" stroke="#000" stroke-width="1.8"/>
<rect x="230.15" y="289.5" width="3.4" height="1.9" rx="0.6" fill="#000"/>
<rect x="228.95" y="291.9" width="5.8" height="71.9" fill="#000" stroke="#000" stroke-width="1.8"/>
<circle cx="231.85" cy="293.5" r="1.6" fill="none" stroke="#ababab" stroke-width="1.0"/>
<circle cx="231.85" cy="297.7" r="1.6" fill="none" stroke="#ababab" stroke-width="1.0"/>
<circle cx="231.85" cy="301.9" r="1.6" fill="none" stroke="#ababab" stroke-width="1.0"/>
<circle cx="231.85" cy="306.1" r="1.6" fill="none" stroke="#ababab" stroke-width="1.0"/>
<circle cx="231.85" cy="310.3" r="1.6" fill="none" stroke="#ababab" stroke-width="1.0"/>
<circle cx="231.85" cy="314.5" r="1.6" fill="none" stroke="#ababab" stroke-width="1.0"/>
<circle cx="231.85" cy="318.7" r="1.6" fill="none" stroke="#ababab" stroke-width="1.0"/>
<circle cx="231.85" cy="322.9" r="1.6" fill="none" stroke="#ababab" stroke-width="1.0"/>
<circle cx="231.85" cy="327.1" r="1.6" fill="none" stroke="#ababab" stroke-width="1.0"/>
<circle cx="231.85" cy="331.3" r="1.6" fill="none" stroke="#ababab" stroke-width="1.0"/>
<circle cx="231.85" cy="335.5" r="1.6" fill="none" stroke="#ababab" stroke-width="1.0"/>
<circle cx="231.85" cy="339.7" r="1.6" fill="none" stroke="#ababab" stroke-width="1.0"/>
<circle cx="231.85" cy="343.9" r="1.6" fill="none" stroke="#ababab" stroke-width="1.0"/>
<circle cx="231.85" cy="348.1" r="1.6" fill="none" stroke="#ababab" stroke-width="1.0"/>
<circle cx="231.85" cy="352.3" r="1.6" fill="none" stroke="#ababab" stroke-width="1.0"/>
<circle cx="231.85" cy="356.5" r="1.6" fill="none" stroke="#ababab" stroke-width="1.0"/>
<circle cx="231.85" cy="360.7" r="1.6" fill="none" stroke="#ababab" stroke-width="1.0"/>
<rect x="228.95" y="291.9" width="5.8" height="71.9" fill="none" stroke="#000" stroke-width="1.8"/>
<rect x="239.45" y="292.6" width="3.4" height="1.9" rx="0.6" fill="#000"/>
<rect x="238.25" y="295.2" width="5.8" height="68.6" fill="#000" stroke="#000" stroke-width="1.8"/>
<rect x="239.25" y="296.1" width="3.8" height="1.95" fill="#777"/>
<rect x="239.25" y="299.75" width="3.8" height="2.5" fill="#777"/>
<rect x="239.25" y="303.95" width="3.8" height="2.5" fill="#777"/>
<rect x="239.25" y="308.15" width="3.8" height="2.5" fill="#777"/>
<rect x="239.25" y="312.35" width="3.8" height="2.5" fill="#777"/>
<rect x="239.25" y="316.55" width="3.8" height="2.5" fill="#777"/>
<rect x="239.25" y="320.75" width="3.8" height="2.5" fill="#777"/>
<rect x="239.25" y="324.95" width="3.8" height="2.5" fill="#777"/>
<rect x="239.25" y="329.15" width="3.8" height="2.5" fill="#777"/>
<rect x="239.25" y="333.35" width="3.8" height="2.5" fill="#777"/>
<rect x="239.25" y="337.55" width="3.8" height="2.5" fill="#777"/>
<rect x="239.25" y="341.75" width="3.8" height="2.5" fill="#777"/>
<rect x="239.25" y="345.95" width="3.8" height="2.5" fill="#777"/>
<rect x="239.25" y="350.15" width="3.8" height="2.5" fill="#777"/>
<rect x="239.25" y="354.35" width="3.8" height="2.5" fill="#777"/>
<rect x="239.25" y="358.55" width="3.8" height="2.5" fill="#777"/>
<line x1="265.41" y1="363.8" x2="265.41" y2="367.3" stroke="#000" stroke-width="1.6"/>
<text x="265.41" y="377.3" font-size="10" font-weight="bold" text-anchor="middle" >6</text>
<rect x="253.31" y="360.3" width="5.8" height="3.5" fill="url(#pDots)" stroke="#000" stroke-width="1.8"/>
<rect x="262.51" y="359.8" width="5.8" height="4" fill="#000" stroke="#000" stroke-width="1.8"/>
<circle cx="265.41" cy="361.4" r="1.6" fill="none" stroke="#ababab" stroke-width="1.0"/>
<rect x="262.51" y="359.8" width="5.8" height="4" fill="none" stroke="#000" stroke-width="1.8"/>
<rect x="271.81" y="358.2" width="5.8" height="5.6" fill="#000" stroke="#000" stroke-width="1.8"/>
<rect x="272.81" y="359.1" width="3.8" height="1.95" fill="#777"/>
<line x1="298.97" y1="363.8" x2="298.97" y2="367.3" stroke="#000" stroke-width="1.6"/>
<text x="298.97" y="377.3" font-size="10" font-weight="bold" text-anchor="middle" >12</text>
<line x1="289.77" y1="290.8" x2="289.77" y2="289.5" stroke="#000" stroke-width="1.6"/>
<rect x="288.07" y="288.5" width="3.4" height="1.9" rx="0.6" fill="#000"/>
<rect x="286.87" y="291.7" width="5.8" height="72.1" fill="url(#pDots)" stroke="#000" stroke-width="1.8"/>
<rect x="297.27" y="287.5" width="3.4" height="1.9" rx="0.6" fill="#000"/>
<rect x="296.07" y="289.8" width="5.8" height="74" fill="#000" stroke="#000" stroke-width="1.8"/>
<circle cx="298.97" cy="291.4" r="1.6" fill="none" stroke="#ababab" stroke-width="1.0"/>
<circle cx="298.97" cy="295.6" r="1.6" fill="none" stroke="#ababab" stroke-width="1.0"/>
<circle cx="298.97" cy="299.8" r="1.6" fill="none" stroke="#ababab" stroke-width="1.0"/>
<circle cx="298.97" cy="304" r="1.6" fill="none" stroke="#ababab" stroke-width="1.0"/>
<circle cx="298.97" cy="308.2" r="1.6" fill="none" stroke="#ababab" stroke-width="1.0"/>
<circle cx="298.97" cy="312.4" r="1.6" fill="none" stroke="#ababab" stroke-width="1.0"/>
<circle cx="298.97" cy="316.6" r="1.6" fill="none" stroke="#ababab" stroke-width="1.0"/>
<circle cx="298.97" cy="320.8" r="1.6" fill="none" stroke="#ababab" stroke-width="1.0"/>
<circle cx="298.97" cy="325" r="1.6" fill="none" stroke="#ababab" stroke-width="1.0"/>
<circle cx="298.97" cy="329.2" r="1.6" fill="none" stroke="#ababab" stroke-width="1.0"/>
<circle cx="298.97" cy="333.4" r="1.6" fill="none" stroke="#ababab" stroke-width="1.0"/>
<circle cx="298.97" cy="337.6" r="1.6" fill="none" stroke="#ababab" stroke-width="1.0"/>
<circle cx="298.97" cy="341.8" r="1.6" fill="none" stroke="#ababab" stroke-width="1.0"/>
<circle cx="298.97" cy="346" r="1.6" fill="none" stroke="#ababab" stroke-width="1.0"/>
<circle cx="298.97" cy="350.2" r="1.6" fill="none" stroke="#ababab" stroke-width="1.0"/>
<circle cx="298.97" cy="354.4" r="1.6" fill="none" stroke="#ababab" stroke-width="1.0"/>
<circle cx="298.97" cy="358.6" r="1.6" fill="none" stroke="#ababab" stroke-width="1.0"/>
<rect x="296.07" y="289.8" width="5.8" height="74" fill="none" stroke="#000" stroke-width="1.8"/>
<rect x="306.57" y="295.8" width="3.4" height="1.7" rx="0.6" fill="#000"/>
<rect x="305.37" y="297.9" width="5.8" height="65.9" fill="#000" stroke="#000" stroke-width="1.8"/>
<rect x="306.37" y="298.8" width="3.8" height="1.95" fill="#777"/>
<rect x="306.37" y="302.45" width="3.8" height="2.5" fill="#777"/>
<rect x="306.37" y="306.65" width="3.8" height="2.5" fill="#777"/>
<rect x="306.37" y="310.85" width="3.8" height="2.5" fill="#777"/>
<rect x="306.37" y="315.05" width="3.8" height="2.5" fill="#777"/>
<rect x="306.37" y="319.25" width="3.8" height="2.5" fill="#777"/>
<rect x="306.37" y="323.45" width="3.8" height="2.5" fill="#777"/>
<rect x="306.37" y="327.65" width="3.8" height="2.5" fill="#777"/>
<rect x="306.37" y="331.85" width="3.8" height="2.5" fill="#777"/>
<rect x="306.37" y="336.05" width="3.8" height="2.5" fill="#777"/>
<rect x="306.37" y="340.25" width="3.8" height="2.5" fill="#777"/>
<rect x="306.37" y="344.45" width="3.8" height="2.5" fill="#777"/>
<rect x="306.37" y="348.65" width="3.8" height="2.5" fill="#777"/>
<rect x="306.37" y="352.85" width="3.8" height="2.5" fill="#777"/>
<rect x="306.37" y="357.05" width="3.8" height="2.5" fill="#777"/>
<rect x="306.37" y="361.25" width="3.8" height="1.65" fill="#777"/>
<line x1="332.53" y1="363.8" x2="332.53" y2="367.3" stroke="#000" stroke-width="1.6"/>
<text x="332.53" y="377.3" font-size="10" font-weight="bold" text-anchor="middle" >24</text>
<rect x="320.43" y="360.8" width="5.8" height="3" fill="url(#pDots)" stroke="#000" stroke-width="1.8"/>
<rect x="329.63" y="361.6" width="5.8" height="2.2" fill="#000" stroke="#000" stroke-width="1.8"/>
<rect x="329.63" y="361.6" width="5.8" height="2.2" fill="none" stroke="#000" stroke-width="1.8"/>
<rect x="338.93" y="359.8" width="5.8" height="4" fill="#000" stroke="#000" stroke-width="1.8"/>
<rect x="339.93" y="360.7" width="3.8" height="1.95" fill="#777"/>
<line x1="366.09" y1="363.8" x2="366.09" y2="367.3" stroke="#000" stroke-width="1.6"/>
<text x="366.09" y="377.3" font-size="10" font-weight="bold" text-anchor="middle" >48</text>
<rect x="355.19" y="307.8" width="3.4" height="1.8" rx="0.6" fill="#000"/>
<rect x="353.99" y="310" width="5.8" height="53.8" fill="url(#pDots)" stroke="#000" stroke-width="1.8"/>
<rect x="364.39" y="348" width="3.4" height="1.5" rx="0.6" fill="#000"/>
<rect x="363.19" y="349.9" width="5.8" height="13.9" fill="#000" stroke="#000" stroke-width="1.8"/>
<circle cx="366.09" cy="351.5" r="1.6" fill="none" stroke="#ababab" stroke-width="1.0"/>
<circle cx="366.09" cy="355.7" r="1.6" fill="none" stroke="#ababab" stroke-width="1.0"/>
<circle cx="366.09" cy="359.9" r="1.6" fill="none" stroke="#ababab" stroke-width="1.0"/>
<rect x="363.19" y="349.9" width="5.8" height="13.9" fill="none" stroke="#000" stroke-width="1.8"/>
<rect x="373.69" y="313.3" width="3.4" height="1.9" rx="0.6" fill="#000"/>
<rect x="372.49" y="315.7" width="5.8" height="48.1" fill="#000" stroke="#000" stroke-width="1.8"/>
<rect x="373.49" y="316.6" width="3.8" height="1.95" fill="#777"/>
<rect x="373.49" y="320.25" width="3.8" height="2.5" fill="#777"/>
<rect x="373.49" y="324.45" width="3.8" height="2.5" fill="#777"/>
<rect x="373.49" y="328.65" width="3.8" height="2.5" fill="#777"/>
<rect x="373.49" y="332.85" width="3.8" height="2.5" fill="#777"/>
<rect x="373.49" y="337.05" width="3.8" height="2.5" fill="#777"/>
<rect x="373.49" y="341.25" width="3.8" height="2.5" fill="#777"/>
<rect x="373.49" y="345.45" width="3.8" height="2.5" fill="#777"/>
<rect x="373.49" y="349.65" width="3.8" height="2.5" fill="#777"/>
<rect x="373.49" y="353.85" width="3.8" height="2.5" fill="#777"/>
<rect x="373.49" y="358.05" width="3.8" height="2.5" fill="#777"/>
<rect x="373.49" y="362.25" width="3.8" height="0.65" fill="#777"/>
<line x1="399.65" y1="363.8" x2="399.65" y2="367.3" stroke="#000" stroke-width="1.6"/>
<text x="399.65" y="377.3" font-size="10" font-weight="bold" text-anchor="middle" >72</text>
<rect x="388.75" y="317" width="3.4" height="1.6" rx="0.6" fill="#000"/>
<rect x="387.55" y="319" width="5.8" height="44.8" fill="url(#pDots)" stroke="#000" stroke-width="1.8"/>
<rect x="397.95" y="314.5" width="3.4" height="1.9" rx="0.6" fill="#000"/>
<rect x="396.75" y="316.9" width="5.8" height="46.9" fill="#000" stroke="#000" stroke-width="1.8"/>
<circle cx="399.65" cy="318.5" r="1.6" fill="none" stroke="#ababab" stroke-width="1.0"/>
<circle cx="399.65" cy="322.7" r="1.6" fill="none" stroke="#ababab" stroke-width="1.0"/>
<circle cx="399.65" cy="326.9" r="1.6" fill="none" stroke="#ababab" stroke-width="1.0"/>
<circle cx="399.65" cy="331.1" r="1.6" fill="none" stroke="#ababab" stroke-width="1.0"/>
<circle cx="399.65" cy="335.3" r="1.6" fill="none" stroke="#ababab" stroke-width="1.0"/>
<circle cx="399.65" cy="339.5" r="1.6" fill="none" stroke="#ababab" stroke-width="1.0"/>
<circle cx="399.65" cy="343.7" r="1.6" fill="none" stroke="#ababab" stroke-width="1.0"/>
<circle cx="399.65" cy="347.9" r="1.6" fill="none" stroke="#ababab" stroke-width="1.0"/>
<circle cx="399.65" cy="352.1" r="1.6" fill="none" stroke="#ababab" stroke-width="1.0"/>
<circle cx="399.65" cy="356.3" r="1.6" fill="none" stroke="#ababab" stroke-width="1.0"/>
<circle cx="399.65" cy="360.5" r="1.6" fill="none" stroke="#ababab" stroke-width="1.0"/>
<rect x="396.75" y="316.9" width="5.8" height="46.9" fill="none" stroke="#000" stroke-width="1.8"/>
<rect x="407.25" y="299" width="3.4" height="1.9" rx="0.6" fill="#000"/>
<rect x="406.05" y="301.6" width="5.8" height="62.2" fill="#000" stroke="#000" stroke-width="1.8"/>
<rect x="407.05" y="302.5" width="3.8" height="1.95" fill="#777"/>
<rect x="407.05" y="306.15" width="3.8" height="2.5" fill="#777"/>
<rect x="407.05" y="310.35" width="3.8" height="2.5" fill="#777"/>
<rect x="407.05" y="314.55" width="3.8" height="2.5" fill="#777"/>
<rect x="407.05" y="318.75" width="3.8" height="2.5" fill="#777"/>
<rect x="407.05" y="322.95" width="3.8" height="2.5" fill="#777"/>
<rect x="407.05" y="327.15" width="3.8" height="2.5" fill="#777"/>
<rect x="407.05" y="331.35" width="3.8" height="2.5" fill="#777"/>
<rect x="407.05" y="335.55" width="3.8" height="2.5" fill="#777"/>
<rect x="407.05" y="339.75" width="3.8" height="2.5" fill="#777"/>
<rect x="407.05" y="343.95" width="3.8" height="2.5" fill="#777"/>
<rect x="407.05" y="348.15" width="3.8" height="2.5" fill="#777"/>
<rect x="407.05" y="352.35" width="3.8" height="2.5" fill="#777"/>
<rect x="407.05" y="356.55" width="3.8" height="2.5" fill="#777"/>
<rect x="407.05" y="360.75" width="3.8" height="2.15" fill="#777"/>
<line x1="256.4" y1="333" x2="276" y2="333" stroke="#000" stroke-width="1.8"/>
<line x1="256.4" y1="328.75" x2="256.4" y2="337.25" stroke="#000" stroke-width="1.8"/>
<line x1="276" y1="328.75" x2="276" y2="337.25" stroke="#000" stroke-width="1.8"/>
<g><line x1="266.2" y1="326.8" x2="266.2" y2="324.6" stroke="#111" stroke-width="0.8"/><circle cx="266.2" cy="324.6" r="0.95" fill="#111"/><line x1="266.2" y1="326.8" x2="268.29" y2="326.12" stroke="#111" stroke-width="0.8"/><circle cx="268.29" cy="326.12" r="0.95" fill="#111"/><line x1="266.2" y1="326.8" x2="264.11" y2="326.12" stroke="#111" stroke-width="0.8"/><circle cx="264.11" cy="326.12" r="0.95" fill="#111"/><line x1="266.2" y1="326.8" x2="267.49" y2="328.58" stroke="#111" stroke-width="0.8"/><circle cx="267.49" cy="328.58" r="0.95" fill="#111"/><line x1="266.2" y1="326.8" x2="264.91" y2="328.58" stroke="#111" stroke-width="0.8"/><circle cx="264.91" cy="328.58" r="0.95" fill="#111"/></g>
<line x1="289.1" y1="268.6" x2="309.4" y2="268.6" stroke="#000" stroke-width="1.8"/>
<line x1="289.1" y1="264.35" x2="289.1" y2="272.85" stroke="#000" stroke-width="1.8"/>
<line x1="309.4" y1="264.35" x2="309.4" y2="272.85" stroke="#000" stroke-width="1.8"/>
<g><line x1="299.25" y1="262.4" x2="299.25" y2="260.2" stroke="#111" stroke-width="0.8"/><circle cx="299.25" cy="260.2" r="0.95" fill="#111"/><line x1="299.25" y1="262.4" x2="301.34" y2="261.72" stroke="#111" stroke-width="0.8"/><circle cx="301.34" cy="261.72" r="0.95" fill="#111"/><line x1="299.25" y1="262.4" x2="297.16" y2="261.72" stroke="#111" stroke-width="0.8"/><circle cx="297.16" cy="261.72" r="0.95" fill="#111"/><line x1="299.25" y1="262.4" x2="300.54" y2="264.18" stroke="#111" stroke-width="0.8"/><circle cx="300.54" cy="264.18" r="0.95" fill="#111"/><line x1="299.25" y1="262.4" x2="297.96" y2="264.18" stroke="#111" stroke-width="0.8"/><circle cx="297.96" cy="264.18" r="0.95" fill="#111"/></g>
<line x1="323" y1="335.6" x2="342.4" y2="335.6" stroke="#000" stroke-width="1.8"/>
<line x1="323" y1="331.35" x2="323" y2="339.85" stroke="#000" stroke-width="1.8"/>
<line x1="342.4" y1="331.35" x2="342.4" y2="339.85" stroke="#000" stroke-width="1.8"/>
<g><line x1="332.7" y1="329.4" x2="332.7" y2="327.2" stroke="#111" stroke-width="0.8"/><circle cx="332.7" cy="327.2" r="0.95" fill="#111"/><line x1="332.7" y1="329.4" x2="334.79" y2="328.72" stroke="#111" stroke-width="0.8"/><circle cx="334.79" cy="328.72" r="0.95" fill="#111"/><line x1="332.7" y1="329.4" x2="330.61" y2="328.72" stroke="#111" stroke-width="0.8"/><circle cx="330.61" cy="328.72" r="0.95" fill="#111"/><line x1="332.7" y1="329.4" x2="333.99" y2="331.18" stroke="#111" stroke-width="0.8"/><circle cx="333.99" cy="331.18" r="0.95" fill="#111"/><line x1="332.7" y1="329.4" x2="331.41" y2="331.18" stroke="#111" stroke-width="0.8"/><circle cx="331.41" cy="331.18" r="0.95" fill="#111"/></g>
<line x1="356.2" y1="288.9" x2="376.4" y2="288.9" stroke="#000" stroke-width="1.8"/>
<line x1="356.2" y1="284.65" x2="356.2" y2="293.15" stroke="#000" stroke-width="1.8"/>
<line x1="376.4" y1="284.65" x2="376.4" y2="293.15" stroke="#000" stroke-width="1.8"/>
<g><line x1="366.3" y1="282.7" x2="366.3" y2="280.5" stroke="#111" stroke-width="0.8"/><circle cx="366.3" cy="280.5" r="0.95" fill="#111"/><line x1="366.3" y1="282.7" x2="368.39" y2="282.02" stroke="#111" stroke-width="0.8"/><circle cx="368.39" cy="282.02" r="0.95" fill="#111"/><line x1="366.3" y1="282.7" x2="364.21" y2="282.02" stroke="#111" stroke-width="0.8"/><circle cx="364.21" cy="282.02" r="0.95" fill="#111"/><line x1="366.3" y1="282.7" x2="367.59" y2="284.48" stroke="#111" stroke-width="0.8"/><circle cx="367.59" cy="284.48" r="0.95" fill="#111"/><line x1="366.3" y1="282.7" x2="365.01" y2="284.48" stroke="#111" stroke-width="0.8"/><circle cx="365.01" cy="284.48" r="0.95" fill="#111"/></g>
<line x1="389.2" y1="282.3" x2="409.3" y2="282.3" stroke="#000" stroke-width="1.8"/>
<line x1="389.2" y1="278.05" x2="389.2" y2="286.55" stroke="#000" stroke-width="1.8"/>
<line x1="409.3" y1="278.05" x2="409.3" y2="286.55" stroke="#000" stroke-width="1.8"/>
<g><line x1="399.25" y1="276.1" x2="399.25" y2="273.9" stroke="#111" stroke-width="0.8"/><circle cx="399.25" cy="273.9" r="0.95" fill="#111"/><line x1="399.25" y1="276.1" x2="401.34" y2="275.42" stroke="#111" stroke-width="0.8"/><circle cx="401.34" cy="275.42" r="0.95" fill="#111"/><line x1="399.25" y1="276.1" x2="397.16" y2="275.42" stroke="#111" stroke-width="0.8"/><circle cx="397.16" cy="275.42" r="0.95" fill="#111"/><line x1="399.25" y1="276.1" x2="400.54" y2="277.88" stroke="#111" stroke-width="0.8"/><circle cx="400.54" cy="277.88" r="0.95" fill="#111"/><line x1="399.25" y1="276.1" x2="397.96" y2="277.88" stroke="#111" stroke-width="0.8"/><circle cx="397.96" cy="277.88" r="0.95" fill="#111"/></g>
<line x1="231.6" y1="215" x2="402.4" y2="215" stroke="#000" stroke-width="1.8"/>
<line x1="231.6" y1="210.7" x2="231.6" y2="219.3" stroke="#000" stroke-width="1.8"/>
<line x1="402.4" y1="210.7" x2="402.4" y2="219.3" stroke="#000" stroke-width="1.8"/>
<g><line x1="316.6" y1="208.4" x2="316.6" y2="206.2" stroke="#111" stroke-width="0.8"/><circle cx="316.6" cy="206.2" r="0.95" fill="#111"/><line x1="316.6" y1="208.4" x2="318.69" y2="207.72" stroke="#111" stroke-width="0.8"/><circle cx="318.69" cy="207.72" r="0.95" fill="#111"/><line x1="316.6" y1="208.4" x2="314.51" y2="207.72" stroke="#111" stroke-width="0.8"/><circle cx="314.51" cy="207.72" r="0.95" fill="#111"/><line x1="316.6" y1="208.4" x2="317.89" y2="210.18" stroke="#111" stroke-width="0.8"/><circle cx="317.89" cy="210.18" r="0.95" fill="#111"/><line x1="316.6" y1="208.4" x2="315.31" y2="210.18" stroke="#111" stroke-width="0.8"/><circle cx="315.31" cy="210.18" r="0.95" fill="#111"/></g>
<line x1="223.5" y1="227.9" x2="242.5" y2="227.9" stroke="#000" stroke-width="2"/>
<line x1="255.1" y1="227.9" x2="274.1" y2="227.9" stroke="#000" stroke-width="2"/>
<line x1="289.7" y1="227.9" x2="308.7" y2="227.9" stroke="#000" stroke-width="2"/>
<line x1="323.5" y1="227.9" x2="342.5" y2="227.9" stroke="#000" stroke-width="2"/>
<line x1="357" y1="227.9" x2="376" y2="227.9" stroke="#000" stroke-width="2"/>
<line x1="388" y1="227.9" x2="407" y2="227.9" stroke="#000" stroke-width="2"/>
<text x="316" y="390.5" font-size="11" font-weight="bold" text-anchor="middle" >Time (h)</text>
<rect x="429" y="228.4" width="11" height="5" fill="url(#pDots)" stroke="#000" stroke-width="2"/>
<text x="446" y="233.4" font-size="8.7" text-anchor="start" >3.8 ng Quer + 5.7 ng 3BP</text>
<rect x="429" y="244.4" width="11" height="5" fill="url(#pCross)" stroke="#000" stroke-width="2"/>
<text x="446" y="249.4" font-size="8.7" text-anchor="start" >11.4 ng Quer + 17.1 ng 3BP</text>
<rect x="429" y="261" width="11" height="5" fill="url(#pLadderG)" stroke="#000" stroke-width="2"/>
<text x="446" y="266" font-size="8.7" text-anchor="start" >22.8 ng Quer + 34.1 ng 3BP</text>
</svg></div>
</body></html>
